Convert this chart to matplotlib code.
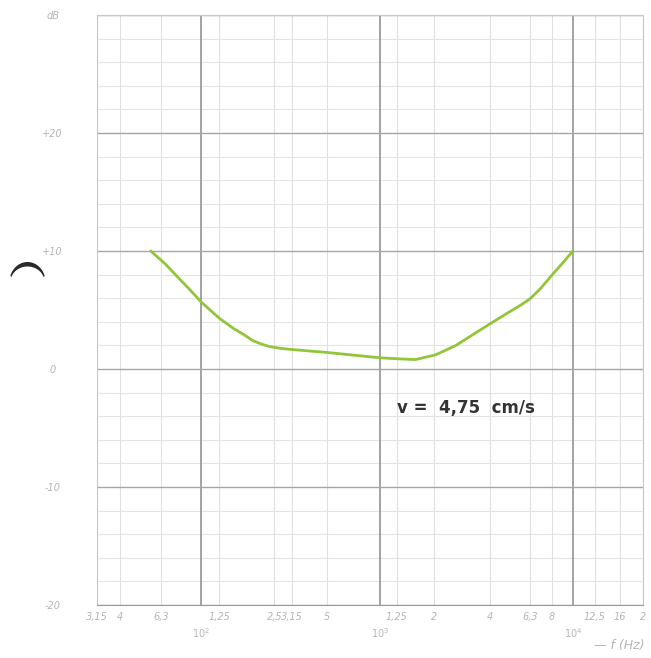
import numpy as np
import matplotlib
matplotlib.use("Agg")
import matplotlib.pyplot as plt
from matplotlib.patches import Polygon

# ---- data ----
freq_hz = [56, 66, 76, 88, 100, 125, 150, 170, 190, 213, 235, 270, 315, 500, 1000, 1320, 1590,
           2050, 2640, 3200, 4000, 5000, 5600, 6300, 7100, 8000, 9000, 10000]
level_db = [10.0, 8.9, 7.8, 6.7, 5.7, 4.3, 3.4, 2.9, 2.4, 2.1, 1.9, 1.75, 1.65, 1.4, 0.95, 0.85, 0.8,
            1.2, 2.0, 2.85, 3.85, 4.85, 5.35, 5.95, 6.85, 7.95, 9.0, 10.0]

x_major = [100, 1000, 10000]
x_major_labels = ["$10^2$", "$10^3$", "$10^4$"]
x_minor = [31.5, 40, 63, 125, 250, 315, 500, 1250, 2000, 4000, 6300, 8000, 12500, 16000, 20000]
x_minor_labels = ["3,15", "4", "6,3", "1,25", "2,5", "3,15", "5", "1,25", "2", "4", "6,3", "8", "12,5", "16", "2"]
y_major = [-20, -10, 0, 10, 20, 30]
y_major_labels = ["-20", "-10", "0", "+10", "+20", "dB"]
y_minor = list(range(-18, 30, 2))

annotation = "v =  4,75  cm/s"
x_axis_label = "— f (Hz)"

# ---- scale mimicking the (slightly distorted) printed log paper ----
_d = np.linspace(-4, 4, 4001)
_F = _d + 0.04 * _d**2 + 0.0586 * _d**3

def fwd(f):
    d = np.log10(np.clip(np.asarray(f, dtype=float), 1e-6, None)) - 3
    return d + 0.04 * d**2 + 0.0586 * d**3

def inv(F):
    return 10 ** (np.interp(F, _F, _d) + 3)

fig = plt.figure(figsize=(6.51, 6.58), dpi=100)
ax = fig.add_axes([97 / 651, 1 - 605 / 658, (643 - 97) / 651, (605 - 15) / 658])
ax.set_xscale("function", functions=(fwd, inv))
ax.set_xlim(31.5, 20000)
ax.set_ylim(-20, 30)

ax.set_xticks(x_major)
ax.set_xticklabels(x_major_labels)
ax.set_xticks(x_minor, minor=True)
ax.set_xticklabels(x_minor_labels, minor=True)
ax.set_yticks(y_major)
ax.set_yticklabels(y_major_labels)
ax.set_yticks(y_minor, minor=True)

ax.tick_params(axis="x", which="major", length=0, pad=15, labelsize=7, labelcolor="#b5b5b5")
ax.tick_params(axis="x", which="minor", length=0, pad=5, labelsize=7, labelcolor="#b5b5b5")
ax.tick_params(axis="y", which="both", length=0, pad=32, labelsize=7, labelcolor="#b5b5b5")
for lab in ax.get_xticklabels(which="both") + ax.get_yticklabels():
    lab.set_fontstyle("italic")
for lab in ax.get_yticklabels():
    lab.set_horizontalalignment("center")

ax.grid(False)
for f in x_minor:
    ax.axvline(f, color="#e0e0e0", lw=0.8, zorder=0)
for f in x_major:
    ax.axvline(f, color="#8a8a8a", lw=1.1, zorder=1)
for y in y_minor:
    if y % 10:
        ax.axhline(y, color="#e4e4e4", lw=0.8, zorder=0)
for y in y_major:
    ax.axhline(y, color="#a5a5a5", lw=1.0, zorder=1)

for side in ["left", "top", "right"]:
    ax.spines[side].set_color("#c8c8c8")
    ax.spines[side].set_linewidth(0.8)
ax.spines["bottom"].set_color("#9a9a9a")

ax.plot(freq_hz, level_db, color="#92c53a", lw=2.0, solid_capstyle="round",
        solid_joinstyle="round", zorder=3)

fig.text(397 / 651, 1 - 408 / 658, annotation, fontsize=12, fontweight="bold",
         family=["DejaVu Sans"], color="#333333", ha="left", va="center")
fig.text(644 / 651, 1 - 646 / 658, x_axis_label, fontsize=9, color="#b5b5b5",
         fontstyle="italic", ha="right", va="center")

# scan artifact: dark crescent at the left margin
t = np.linspace(np.radians(18), np.radians(162), 40)
cx, cy = 27.5, 282
outer = np.column_stack([cx + 18 * np.cos(t), cy - 20 * np.sin(t)])
inner = np.column_stack([cx + 17 * np.cos(t[::-1]), cy - 15.5 * np.sin(t[::-1])])
pts = np.vstack([outer, inner])
pts_fig = np.column_stack([pts[:, 0] / 651, 1 - pts[:, 1] / 658])
fig.add_artist(Polygon(pts_fig, closed=True, transform=fig.transFigure,
                       facecolor="#2a2a2a", edgecolor="none"))

fig.savefig("out.png", dpi=100)
